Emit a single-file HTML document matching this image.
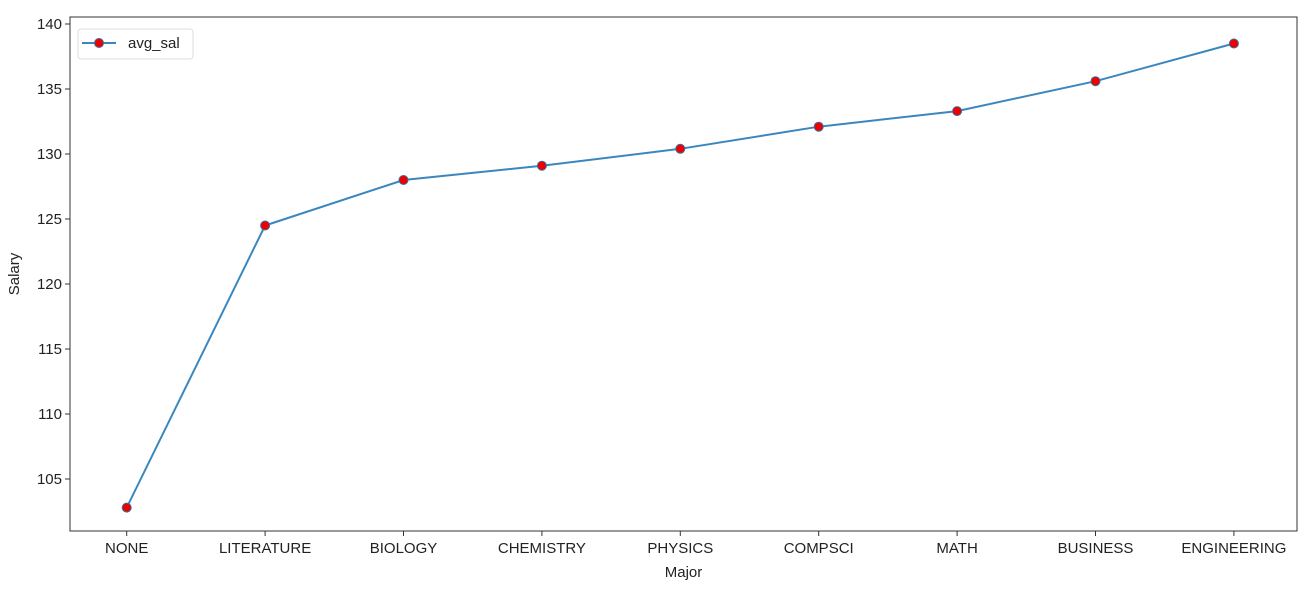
<!DOCTYPE html>
<html><head><meta charset="utf-8"><style>
body{margin:0;background:#fff;font-family:"Liberation Sans",sans-serif;}
text{font-family:"Liberation Sans",sans-serif;font-size:15px;fill:#222;}
</style></head><body>
<svg id="chart" width="1316" height="586" xmlns="http://www.w3.org/2000/svg">
<g id="g"></g>
</svg>
<script>
const categories=["NONE","LITERATURE","BIOLOGY","CHEMISTRY","PHYSICS","COMPSCI","MATH","BUSINESS","ENGINEERING"];
const avgSal=[102.8,124.5,128.0,129.1,130.4,132.1,133.3,135.6,138.5];
const yTicks=[105,110,115,120,125,130,135,140];
const L=70,R=1297,T=17,B=531;
const x=i=>126.7+138.4*i;
const y=v=>24+(140-v)*13;
const g=document.getElementById('g');
const NS='http://www.w3.org/2000/svg';
function mk(t,a,p){const e=document.createElementNS(NS,t);for(const k in a)e.setAttribute(k,a[k]);(p||g).appendChild(e);return e;}
yTicks.forEach(v=>{
 const t=mk('line',{x1:L-5,x2:L,y1:y(v),y2:y(v),stroke:'#333'});
 
 
 const l=mk('text',{x:L-8,y:y(v)+5,'text-anchor':'end'});l.textContent=v;
 
 
});
categories.forEach((c,i)=>{
 const t=mk('line',{x1:x(i),x2:x(i),y1:B,y2:B+5,stroke:'#333'});
 
 
 const l=mk('text',{x:x(i),y:B+22,'text-anchor':'middle'});l.textContent=c;
 
 
});
const line=mk('polyline',{points:avgSal.map((v,i)=>x(i)+','+y(v)).join(' '),fill:'none',stroke:'#3a87c0','stroke-width':2});


avgSal.forEach((v,i)=>{
 const p=mk('circle',{cx:x(i),cy:y(v),r:4.5,fill:'#ee0000',stroke:'#3a6fa0','stroke-width':1});
 
 
});
const fr=mk('rect',{x:L,y:T,width:R-L,height:B-T,fill:'none',stroke:'#333','stroke-width':1});


const xt=mk('text',{x:(L+R)/2,y:577,'text-anchor':'middle'});xt.textContent='Major';


const yt=mk('text',{x:19,y:274,'text-anchor':'middle',transform:'rotate(-90 19 274)'});yt.textContent='Salary';


const lg=mk('g',{});


mk('rect',{x:78,y:29,width:115,height:30,rx:3,fill:'#fff',stroke:'#ddd'},lg);
mk('line',{x1:82,x2:116,y1:43,y2:43,stroke:'#3a87c0','stroke-width':2},lg);
mk('circle',{cx:99,cy:43,r:4.5,fill:'#ee0000',stroke:'#3a6fa0'},lg);
const lt=mk('text',{x:128,y:48},lg);lt.textContent='avg_sal';


</script>
</body></html>
